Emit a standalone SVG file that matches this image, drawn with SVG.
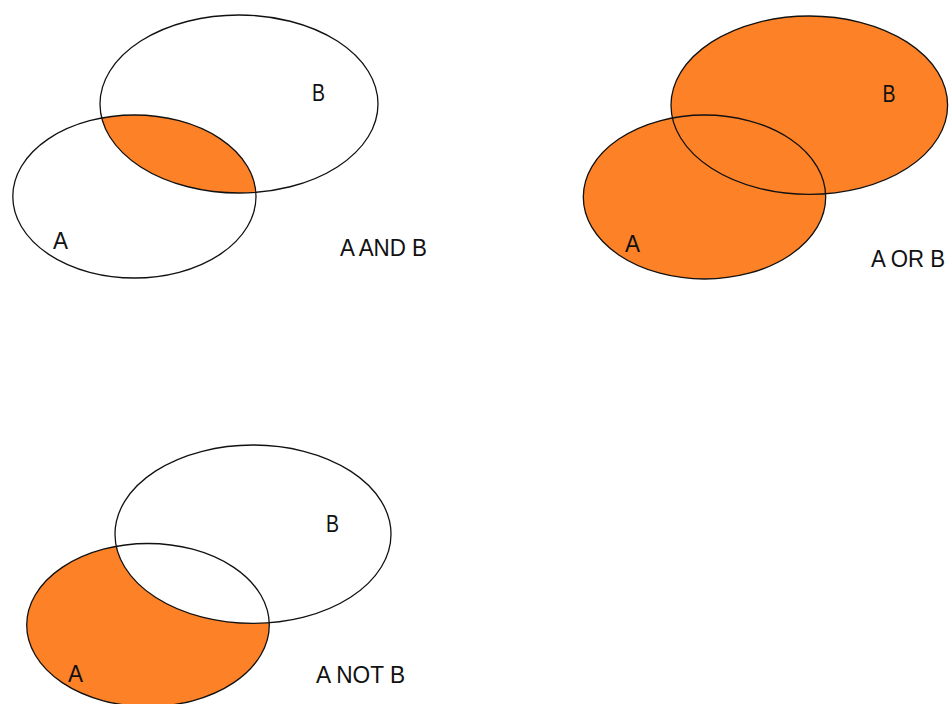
<svg xmlns="http://www.w3.org/2000/svg" width="950" height="704" viewBox="0 0 950 704">
<style>
.bg{fill:#ffffff}
.ol{fill:none;stroke:#111111;stroke-width:1.3}
.wh{fill:#ffffff;stroke:#111111;stroke-width:1.3}
.or{fill:#FD8127;stroke:none}
.lb{font-family:"Liberation Sans",Arial,sans-serif;font-size:24px;fill:#111111}
</style>
<defs>
<clipPath id="clipB1"><ellipse cx="239" cy="104" rx="139" ry="89"/></clipPath>
</defs>
<rect class="bg" x="0" y="0" width="950" height="704"/>

<g id="and-diagram">
  <g id="and-lens"><ellipse class="or" cx="134.4" cy="196.5" rx="121.6" ry="81.5" clip-path="url(#clipB1)"/></g>
  <g id="and-A"><ellipse class="ol" cx="134.4" cy="196.5" rx="121.6" ry="81.5"/>
    <text class="lb" x="53" y="249" textLength="15" lengthAdjust="spacingAndGlyphs">A</text></g>
  <g id="and-B"><ellipse class="ol" cx="239" cy="104" rx="139" ry="89"/>
    <text class="lb" x="312" y="100.5" textLength="13" lengthAdjust="spacingAndGlyphs">B</text></g>
  <text id="and-title" class="lb" x="340" y="256" textLength="87" lengthAdjust="spacingAndGlyphs">A AND B</text>
</g>

<g id="or-diagram">
  <g id="or-fill">
    <ellipse class="or" cx="809.3" cy="105.2" rx="138.3" ry="89.2"/>
    <ellipse class="or" cx="704.5" cy="197" rx="121.2" ry="82"/>
  </g>
  <g id="or-B"><ellipse class="ol" cx="809.3" cy="105.2" rx="138.3" ry="89.2"/>
    <text class="lb" x="882.5" y="101.5" textLength="13" lengthAdjust="spacingAndGlyphs">B</text></g>
  <g id="or-A"><ellipse class="ol" cx="704.5" cy="197" rx="121.2" ry="82"/>
    <text class="lb" x="625" y="252" textLength="15" lengthAdjust="spacingAndGlyphs">A</text></g>
  <text id="or-title" class="lb" x="871" y="267" textLength="74" lengthAdjust="spacingAndGlyphs">A OR B</text>
</g>

<g id="not-diagram">
  <g id="not-A-fill"><ellipse class="or" cx="148" cy="625" rx="121.3" ry="81.5"/></g>
  <g id="not-B"><ellipse class="wh" cx="253" cy="534.2" rx="138" ry="89.2"/>
    <text class="lb" x="326" y="531.5" textLength="13" lengthAdjust="spacingAndGlyphs">B</text></g>
  <g id="not-A"><ellipse class="ol" cx="148" cy="625" rx="121.3" ry="81.5"/>
    <text class="lb" x="68" y="682" textLength="15" lengthAdjust="spacingAndGlyphs">A</text></g>
  <text id="not-title" class="lb" x="316" y="683" textLength="89" lengthAdjust="spacingAndGlyphs">A NOT B</text>
</g>
</svg>
